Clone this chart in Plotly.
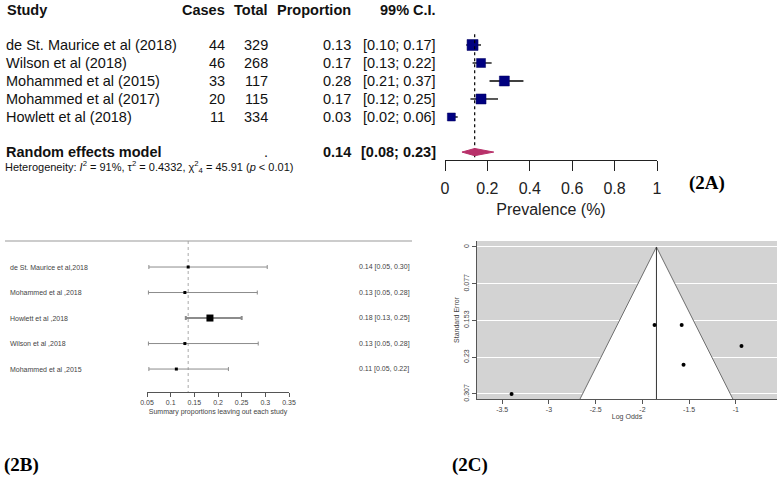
import plotly.graph_objects as go

W, H = 781, 495

# ---------------- Data: Panel 2A (forest plot) ----------------
studies_a = ["de St. Maurice et al (2018)", "Wilson et al (2018)", "Mohammed et al (2015)",
             "Mohammed et al (2017)", "Howlett et al (2018)"]
cases_a = [44, 46, 33, 20, 11]
totals_a = [329, 268, 117, 115, 334]
prop_a = [0.13, 0.17, 0.28, 0.17, 0.03]
lo_a = [0.10, 0.13, 0.21, 0.12, 0.02]
hi_a = [0.17, 0.22, 0.37, 0.25, 0.06]
weight_size_a = [11, 9, 10, 10, 8]
pooled_a = 0.14
pooled_lo_a = 0.08
pooled_hi_a = 0.23
ticks_a = [0, 0.2, 0.4, 0.6, 0.8, 1]
ticklabels_a = ["0", "0.2", "0.4", "0.6", "0.8", "1"]

# ---------------- Data: Panel 2B (leave-one-out) ----------------
studies_b = ["de St. Maurice et al,2018", "Mohammed et al ,2018", "Howlett et al ,2018",
             "Wilson et al ,2018", "Mohammed et al ,2015"]
est_b = [0.137, 0.13, 0.183, 0.13, 0.112]
lo_b = [0.054, 0.053, 0.132, 0.053, 0.054]
hi_b = [0.304, 0.283, 0.25, 0.285, 0.222]
labels_b = ["0.14 [0.05, 0.30]", "0.13 [0.05, 0.28]", "0.18 [0.13, 0.25]",
            "0.13 [0.05, 0.28]", "0.11 [0.05, 0.22]"]
size_b = [3, 3, 7, 3, 3]
overall_b = 0.137
ticks_b = [0.05, 0.1, 0.15, 0.2, 0.25, 0.3, 0.35]
ticklabels_b = ["0.05", "0.1", "0.15", "0.2", "0.25", "0.3", "0.35"]

# ---------------- Data: Panel 2C (funnel plot) ----------------
logodds_c = [-1.87, -1.58, -0.94, -1.56, -3.40]
se_c = [0.163, 0.163, 0.207, 0.246, 0.307]
est_c = -1.85
z_c = 2.576
se_max_c = 0.3175
ticks_cx = [-3.5, -3, -2.5, -2, -1.5, -1]
ticklabels_cx = ["-3.5", "-3", "-2.5", "-2", "-1.5", "-1"]
ticks_cy = [0, 0.077, 0.153, 0.23, 0.307]
ticklabels_cy = ["0", "0.077", "0.153", "0.23", "0.307"]


def px(x):
    return x / W


def py(y):
    return 1 - y / H


SANS = "Liberation Sans, Arial, sans-serif"
SERIF = "Liberation Serif, Times New Roman, serif"

fig = go.Figure()
ann = []

# ===== Panel 2A =====
rows_a = list(range(1, len(studies_a) + 1))
row_pooled = 6.95
for i, r in enumerate(rows_a):
    fig.add_trace(go.Scatter(x=[lo_a[i], hi_a[i]], y=[r, r], mode="lines",
                             line=dict(color="black", width=1.3), xaxis="x", yaxis="y",
                             showlegend=False, hoverinfo="skip"))
fig.add_trace(go.Scatter(x=prop_a, y=rows_a, mode="markers",
                         marker=dict(symbol="square", size=weight_size_a, color="#000080",
                                     opacity=1, line=dict(color="#000060", width=0.5)),
                         xaxis="x", yaxis="y", showlegend=False))
fig.add_trace(go.Scatter(x=[pooled_a, pooled_a], y=[0.4, 7.39], mode="lines",
                         line=dict(color="black", width=1.2, dash="dot"),
                         xaxis="x", yaxis="y", showlegend=False))
dh = 0.2
fig.add_trace(go.Scatter(x=[pooled_lo_a, pooled_a, pooled_hi_a, pooled_a, pooled_lo_a],
                         y=[row_pooled, row_pooled - dh, row_pooled, row_pooled + dh, row_pooled],
                         mode="lines", fill="toself", fillcolor="#B8316A",
                         line=dict(color="#B8316A", width=1),
                         xaxis="x", yaxis="y", showlegend=False))

hdr_y = -0.94
fsz = 14.5
tbl = []
tbl.append(dict(text="<b>Study</b>", x=px(5), y=hdr_y, xanchor="left"))
tbl.append(dict(text="<b>Cases</b>", x=px(227), y=hdr_y, xanchor="right"))
tbl.append(dict(text="<b>Total</b>", x=px(270), y=hdr_y, xanchor="right"))
tbl.append(dict(text="<b>Proportion</b>", x=px(353), y=hdr_y, xanchor="right"))
tbl.append(dict(text="<b>99% C.I.</b>", x=px(438), y=hdr_y, xanchor="right"))
for i, r in enumerate(rows_a):
    tbl.append(dict(text=studies_a[i], x=px(4), y=r, xanchor="left"))
    tbl.append(dict(text=str(cases_a[i]), x=px(227), y=r, xanchor="right"))
    tbl.append(dict(text=str(totals_a[i]), x=px(270), y=r, xanchor="right"))
    tbl.append(dict(text=f"{prop_a[i]:.2f}", x=px(353), y=r, xanchor="right"))
    tbl.append(dict(text=f"[{lo_a[i]:.2f}; {hi_a[i]:.2f}]", x=px(438), y=r, xanchor="right"))
tbl.append(dict(text="<b>Random effects model</b>", x=px(4), y=row_pooled, xanchor="left"))
tbl.append(dict(text=".", x=px(270), y=row_pooled, xanchor="right"))
tbl.append(dict(text=f"<b>{pooled_a:.2f}</b>", x=px(353), y=row_pooled, xanchor="right"))
tbl.append(dict(text=f"<b>[{pooled_lo_a:.2f}; {pooled_hi_a:.2f}]</b>", x=px(438), y=row_pooled,
                xanchor="right"))
for a in tbl:
    a.update(xref="paper", yref="y", showarrow=False, yanchor="middle",
             font=dict(family=SANS, size=fsz, color="#111"))
ann.extend(tbl)
ann.append(dict(text="Heterogeneity: <i>I</i><sup>2</sup> = 91%, τ<sup>2</sup> = 0.4332, "
                     "χ<sup>2</sup><sub>4</sub> = 45.91 (<i>p</i> < 0.01)",
                x=px(3), y=py(167), xref="paper", yref="paper", xanchor="left",
                yanchor="middle", showarrow=False,
                font=dict(family=SANS, size=11, color="#111")))

# ===== Panel 2B =====
rows_b = list(range(1, len(studies_b) + 1))
fig.add_trace(go.Scatter(x=[overall_b, overall_b], y=[-0.02, 5.9], mode="lines",
                         line=dict(color="#aaaaaa", width=1, dash="dot"),
                         xaxis="x2", yaxis="y2", showlegend=False))
for i, r in enumerate(rows_b):
    big = size_b[i] > 4
    fig.add_trace(go.Scatter(x=[est_b[i]], y=[r], mode="markers",
                             marker=dict(symbol="square", size=size_b[i], color="black"),
                             error_x=dict(type="data", symmetric=False,
                                          array=[hi_b[i] - est_b[i]],
                                          arrayminus=[est_b[i] - lo_b[i]],
                                          color="#8c8c8c", thickness=2 if big else 1, width=2),
                             xaxis="x2", yaxis="y2", showlegend=False))
    ann.append(dict(text=studies_b[i], x=px(8), y=r, xref="paper", yref="y2", xanchor="left",
                    yanchor="middle", showarrow=False,
                    font=dict(family=SANS, size=7, color="#444")))
    ann.append(dict(text=labels_b[i], x=px(357), y=r, xref="paper", yref="y2", xanchor="left",
                    yanchor="middle", showarrow=False,
                    font=dict(family=SANS, size=7, color="#444")))

# ===== Panel 2C =====
fig.add_trace(go.Scatter(x=[est_c - z_c * se_max_c, est_c, est_c + z_c * se_max_c],
                         y=[se_max_c, 0, se_max_c], mode="lines", fill="toself",
                         fillcolor="white", line=dict(color="#6e6e6e", width=1),
                         xaxis="x3", yaxis="y3", showlegend=False))
fig.add_trace(go.Scatter(x=[est_c, est_c], y=[0, se_max_c], mode="lines",
                         line=dict(color="#333", width=1),
                         xaxis="x3", yaxis="y3", showlegend=False))
fig.add_trace(go.Scatter(x=logodds_c, y=se_c, mode="markers",
                         marker=dict(color="black", size=4),
                         xaxis="x3", yaxis="y3", showlegend=False))

# panel labels
for t, x, y in [("(2A)", 707, 183), ("(2B)", 21, 465), ("(2C)", 470, 465)]:
    ann.append(dict(text=f"<b>{t}</b>", x=px(x), y=py(y), xref="paper", yref="paper",
                    xanchor="center", yanchor="middle", showarrow=False,
                    font=dict(family=SERIF, size=19, color="black")))

shapes = [
    dict(type="line", xref="paper", yref="paper", x0=px(5), x1=px(412), y0=py(241), y1=py(241),
         line=dict(color="#9a9a9a", width=1.2)),
    dict(type="rect", xref="x3 domain", yref="y3 domain", x0=0, x1=1, y0=0, y1=1,
         fillcolor="#D3D3D3", line=dict(width=0), layer="below"),
]

small = dict(family=SANS, size=7, color="#444")
fig.update_layout(
    width=W, height=H, autosize=False,
    margin=dict(l=0, r=0, t=0, b=0, pad=0, autoexpand=False),
    paper_bgcolor="white", plot_bgcolor="rgba(0,0,0,0)",
    showlegend=False,
    annotations=ann, shapes=shapes,
    xaxis=dict(domain=[px(445), px(657)], range=[0, 1], anchor="y", automargin=False,
               tickvals=ticks_a, ticktext=ticklabels_a, ticks="outside", ticklen=10,
               tickcolor="#222", showline=True, linecolor="#222", linewidth=1,
               showgrid=False, zeroline=False, ticklabelstandoff=4,
               tickfont=dict(family=SANS, size=16, color="#222"),
               title=dict(text="Prevalence (%)", standoff=7,
                          font=dict(family=SANS, size=16, color="#222"))),
    yaxis=dict(domain=[py(160), 1], range=[7.39, -1.5], visible=False, anchor="x",
               automargin=False),
    xaxis2=dict(domain=[px(147), px(289)], range=[0.05, 0.35], anchor="y2", automargin=False,
                tickvals=ticks_b, ticktext=ticklabels_b, ticks="outside", ticklen=4,
                tickcolor="#555", showline=True, linecolor="#555", linewidth=1,
                showgrid=False, zeroline=False, tickfont=small,
                title=dict(text="Summary proportions leaving out each study", standoff=3,
                           font=small)),
    yaxis2=dict(domain=[py(392), py(241)], range=[5.9, -0.02], visible=False, anchor="x2",
                automargin=False),
    xaxis3=dict(domain=[px(477), px(777)], range=[-3.77, -0.56], anchor="y3", automargin=False,
                tickvals=ticks_cx, ticktext=ticklabels_cx, ticks="outside", ticklen=4,
                tickcolor="#555", showline=True, linecolor="#555", linewidth=1,
                showgrid=False, zeroline=False, tickfont=small,
                title=dict(text="Log Odds", standoff=1, font=small)),
    yaxis3=dict(domain=[py(399), py(241)], range=[se_max_c, -0.0125], anchor="x3",
                automargin=False,
                tickvals=ticks_cy, ticktext=ticklabels_cy, ticks="outside", ticklen=4,
                tickcolor="#555", tickangle=-90, showline=True, linecolor="#555",
                linewidth=1, showgrid=True, gridcolor="white", gridwidth=1,
                zeroline=False, tickfont=small,
                title=dict(text="Standard Error", standoff=2, font=small)),
)

fig.write_html("out.html",
               config={"displayModeBar": False},
               post_script="document.body.style.margin='0px';"
                           "document.body.style.overflow='hidden';")
